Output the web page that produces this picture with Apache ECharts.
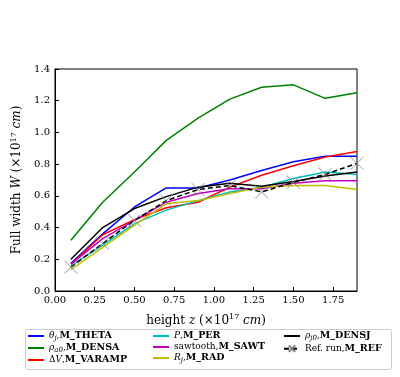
<!DOCTYPE html>
<html>
<head>
<meta charset="utf-8">
<script src="https://cdn.jsdelivr.net/npm/echarts@6/dist/echarts.min.js"></script>
<style>
  html, body { margin: 0; padding: 0; background: #fff; }
  #chart { width: 400px; height: 377px; }
</style>
</head>
<body>
<div id="chart"></div>
<script>
// heights z (x 10^17 cm)
const heights = [0.1, 0.3, 0.5, 0.7, 0.9, 1.1, 1.3, 1.5, 1.7, 1.9];
// full width W per run
const mTheta = [0.175, 0.36, 0.53, 0.65, 0.65, 0.70, 0.76, 0.815, 0.85, 0.85];
const mDensa = [0.32, 0.56, 0.75, 0.95, 1.09, 1.21, 1.285, 1.30, 1.215, 1.25];
const mVaramp = [0.17, 0.355, 0.45, 0.525, 0.56, 0.655, 0.73, 0.79, 0.845, 0.88];
const mPer = [0.16, 0.29, 0.425, 0.51, 0.57, 0.625, 0.655, 0.71, 0.75, 0.735];
const mSawt = [0.17, 0.33, 0.445, 0.56, 0.615, 0.645, 0.645, 0.68, 0.695, 0.695];
const mRad = [0.135, 0.275, 0.415, 0.55, 0.57, 0.615, 0.655, 0.665, 0.665, 0.64];
const mDensj = [0.2, 0.4, 0.52, 0.595, 0.655, 0.68, 0.66, 0.69, 0.725, 0.75];
const mRef = [0.15, 0.30, 0.445, 0.57, 0.64, 0.665, 0.625, 0.685, 0.735, 0.805];

const serif = 'DejaVu Serif';
const xCross = 'path://M0,0L10,10M10,0L0,10';

const runs = [
  { name: 'M_THETA', data: mTheta, color: '#0000ff', label: '{i|θ}{s|j}{t|,}{b|M_THETA}' },
  { name: 'M_DENSA', data: mDensa, color: '#008000', label: '{i|ρ}{s|a0}{t|,}{b|M_DENSA}' },
  { name: 'M_VARAMP', data: mVaramp, color: '#ff0000', label: '{t|Δ}{i|V}{t|,}{b|M_VARAMP}' },
  { name: 'M_PER', data: mPer, color: '#00bfbf', label: '{i|P}{t|,}{b|M_PER}' },
  { name: 'M_SAWT', data: mSawt, color: '#bf00bf', label: '{t|sawtooth,}{b|M_SAWT}' },
  { name: 'M_RAD', data: mRad, color: '#bfbf00', label: '{i|R}{s|j}{t|,}{b|M_RAD}' },
  { name: 'M_DENSJ', data: mDensj, color: '#000000', label: '{i|ρ}{s|j0}{t|,}{b|M_DENSJ}' },
  { name: 'M_REF', data: mRef, color: '#000000', label: '{t|Ref. run,}{b|M_REF}' }
];

const labelOf = {};
runs.forEach(r => { labelOf[r.name] = r.label; });

const legendRich = {
  t: { fontFamily: serif, fontSize: 9, lineHeight: 12, color: '#000' },
  i: { fontFamily: serif, fontSize: 9, lineHeight: 12, fontStyle: 'italic', color: '#000' },
  s: { fontFamily: serif, fontSize: 7, lineHeight: 12, fontStyle: 'italic', color: '#000', verticalAlign: 'bottom' },
  b: { fontFamily: serif, fontSize: 9.5, lineHeight: 12, fontWeight: 'bold', color: '#000' }
};

function makeLegend(names, left) {
  return {
    data: names.map(n => n === 'M_REF' ? { name: n } : { name: n, itemStyle: { opacity: 0 } }),
    orient: 'vertical',
    left: left,
    top: 331,
    padding: 0,
    itemGap: 1,
    itemWidth: 16,
    itemHeight: 8,
    formatter: n => labelOf[n],
    textStyle: { rich: legendRich }
  };
}

let series = runs.map(r => {
  let s = {
    name: r.name,
    type: 'line',
    data: heights.map((h, i) => [h, r.data[i]]),
    symbol: 'none',
    itemStyle: { color: r.color },
    lineStyle: { color: r.color, width: 1.5 },
    animation: false
  };
  if (r.name === 'M_REF') {
    s.symbol = xCross;
    s.symbolSize = 13;
    s.showSymbol = true;
    s.itemStyle = { color: 'none', borderColor: '#7f7f7f', borderWidth: 0.8 };
    s.lineStyle = { color: '#000', width: 1.5, type: [5, 3] };
  }
  return s;
});

const chart = echarts.init(document.getElementById('chart'), null, { renderer: 'canvas' });
chart.setOption({
  backgroundColor: '#fff',
  animation: false,
  grid: {
    left: 55, right: 43, top: 69, bottom: 86,
    show: true, borderColor: '#000', borderWidth: 1
  },
  xAxis: {
    type: 'value',
    min: 0,
    max: 1.9,
    interval: 0.25,
    name: '{t|height }{i|z}{t| (×10}{sup|17}{i| cm}{t|)}',
    nameLocation: 'middle',
    nameGap: 22,
    nameTextStyle: {
      rich: {
        t: { fontFamily: serif, fontSize: 12, color: '#000' },
        i: { fontFamily: serif, fontSize: 12, fontStyle: 'italic', color: '#000' },
        sup: { fontFamily: serif, fontSize: 8, color: '#000', padding: [0, 0, 7, 0] }
      }
    },
    axisLine: { lineStyle: { color: '#000', width: 1 } },
    axisTick: { inside: true, length: 4, lineStyle: { color: '#000' } },
    axisLabel: {
      showMaxLabel: false,
      margin: 4,
      fontFamily: serif, fontSize: 10, color: '#000',
      formatter: v => v.toFixed(2)
    },
    splitLine: { show: false }
  },
  yAxis: {
    type: 'value',
    min: 0,
    max: 1.4,
    interval: 0.2,
    name: '{t|Full width }{i|W}{t| (×10}{sup|17}{i| cm}{t|)}',
    nameLocation: 'middle',
    nameGap: 30,
    nameTextStyle: {
      rich: {
        t: { fontFamily: serif, fontSize: 12, color: '#000' },
        i: { fontFamily: serif, fontSize: 12, fontStyle: 'italic', color: '#000' },
        sup: { fontFamily: serif, fontSize: 8, color: '#000', padding: [0, 0, 7, 0] }
      }
    },
    axisLine: { show: true, lineStyle: { color: '#000', width: 1 } },
    axisTick: { show: true, inside: true, length: 4, lineStyle: { color: '#000' } },
    axisLabel: {
      margin: 5,
      fontFamily: serif, fontSize: 10, color: '#000',
      formatter: v => v.toFixed(1)
    },
    splitLine: { show: false }
  },
  legend: [
    makeLegend(['M_THETA', 'M_DENSA', 'M_VARAMP'], 27),
    makeLegend(['M_PER', 'M_SAWT', 'M_RAD'], 152),
    makeLegend(['M_DENSJ', 'M_REF'], 283)
  ],
  graphic: [{
    type: 'rect',
    left: 23, top: 327,
    shape: { width: 366, height: 40, r: 2 },
    style: { fill: 'none', stroke: '#cccccc', lineWidth: 1 },
    silent: true
  }],
  series: series
});
</script>
</body>
</html>
